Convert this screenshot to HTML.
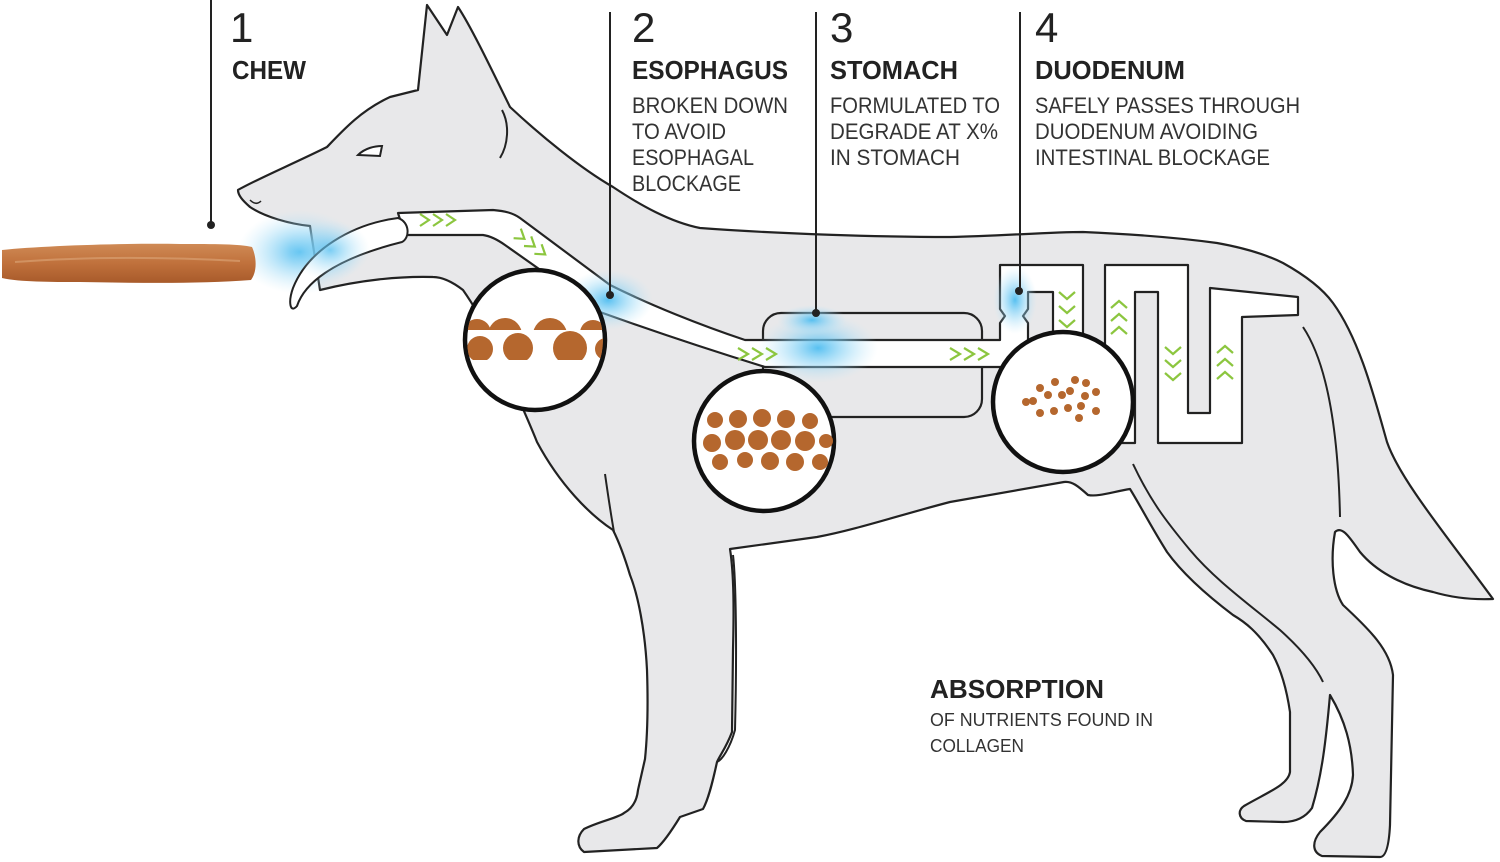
<!DOCTYPE html>
<html><head><meta charset="utf-8">
<style>
html,body{margin:0;padding:0;background:#fff;}
svg{display:block;}
.num{font-family:"Liberation Sans",sans-serif;font-size:42px;fill:#222;}
.hd{font-family:"Liberation Sans",sans-serif;font-size:26px;font-weight:bold;fill:#222;}
.bd{font-family:"Liberation Sans",sans-serif;font-size:22px;fill:#333;}
.sm{font-family:"Liberation Sans",sans-serif;font-size:18px;fill:#333;}
</style></head>
<body>
<svg width="1500" height="862" viewBox="0 0 1500 862" xmlns="http://www.w3.org/2000/svg">
<defs>
<radialGradient id="g"><stop offset="0" stop-color="#4fbdf0" stop-opacity="0.95"/><stop offset="0.5" stop-color="#8ad3f5" stop-opacity="0.5"/><stop offset="1" stop-color="#bfe6f8" stop-opacity="0"/></radialGradient>
<linearGradient id="st" x1="0" y1="0" x2="0" y2="1"><stop offset="0" stop-color="#cf8a55"/><stop offset="0.5" stop-color="#c0713c"/><stop offset="1" stop-color="#a85a2a"/></linearGradient>
<clipPath id="c1"><rect x="462" y="290" width="146" height="40"/></clipPath>
<clipPath id="c2"><rect x="462" y="330" width="146" height="30"/></clipPath>
<clipPath id="cc"><circle cx="535" cy="340" r="68"/></clipPath>
</defs>
<!-- dog outline -->
<path d="M238,190 C255,180 295,163 327,147 C345,128 362,110 390,97 L418,90 L427,5 L447,35 L458,7 C470,25 488,62 510,107 C540,135 580,168 613,187 C640,205 670,222 700,228 C780,234 880,237 950,237 C1000,236 1050,232 1083,232 C1130,234 1180,238 1217,243 C1245,248 1265,254 1283,263 C1310,278 1325,292 1333,303 C1360,340 1375,400 1387,442 C1400,480 1450,540 1493,599 C1470,600 1450,597 1433,592 C1400,585 1375,570 1360,552 C1350,538 1342,525 1335,532 C1330,560 1333,590 1343,605 C1370,630 1390,650 1393,675 L1390,825 C1389,845 1386,857 1380,857 L1322,856 C1312,852 1312,842 1320,832 C1340,812 1352,795 1353,775 C1352,745 1345,720 1330,695 C1326,740 1322,775 1312,808 C1305,818 1295,822 1283,822 L1246,821 C1238,818 1238,810 1244,806 C1268,792 1288,785 1290,772 L1290,712 C1286,685 1280,668 1273,655 C1258,632 1245,622 1233,615 C1200,590 1180,570 1167,552 C1150,525 1140,505 1130,489 C1112,492 1098,497 1088,495 C1078,486 1072,481 1064,482 C1030,488 990,495 950,502 C900,515 855,530 817,537 L730,549 C734,575 734,610 733,650 L732,732 C726,748 720,755 717,762 C712,785 708,800 703,809 L680,817 C672,830 664,842 657,848 L584,852 C576,846 577,836 584,829 C600,821 618,818 624,813 C633,808 637,800 638,790 L645,759 C648,730 648,700 647,670 C645,630 638,595 630,575 C624,555 618,540 613,530 C590,515 560,485 537,442 C525,412 512,385 495,345 C480,315 470,300 463,290 C450,280 440,277 433,277 C400,276 360,280 320,290 L310,226 C290,224 265,217 250,207 C242,200 238,195 238,190 Z" fill="#e8e8ea" stroke="#222" stroke-width="2.2" stroke-linejoin="round"/>
<!-- inner lines -->
<g fill="none" stroke="#222" stroke-width="2">
<path d="M502,110 C510,125 508,145 500,158"/>
<path d="M605,474 C608,495 611,515 614,532"/>
<path d="M733,555 C736,580 737,650 735,730 C730,748 722,760 717,762"/>
<path d="M1133,464 C1150,500 1165,520 1190,550 C1215,580 1250,605 1280,630 C1300,648 1315,665 1323,682"/>
<path d="M1303,327 C1325,360 1338,420 1340,517"/>
</g>
<!-- eye / nose -->
<path d="M358,155 C365,148 375,146 382,146 L380,156 Z" fill="#fff" stroke="#222" stroke-width="2"/>
<path d="M250,200 Q256,206 261,201" fill="none" stroke="#222" stroke-width="1.5"/>
<!-- stomach -->
<rect x="763" y="313" width="219" height="104" rx="18" fill="#e8e8ea" stroke="#222" stroke-width="2.2"/>
<!-- glows behind -->
<ellipse cx="300" cy="252" rx="62" ry="42" fill="url(#g)"/>
<!-- digestive tube -->
<path d="M398,213 L493,210 C505,211 513,213 520,218 L610,285 C650,305 700,325 745,340 L1000,340 L1000,323 L1005,316 L1000,309 L1000,265 L1083,265 L1083,372 L1053,372 L1053,292 L1028,292 L1028,309 L1023,316 L1028,323 L1028,367 L765,367 C710,350 650,330 600,312 L505,245 C498,240 490,236 483,235 L405,235 Z" fill="#fff" stroke="#222" stroke-width="2.2" stroke-linejoin="round"/>
<path d="M1105,443 L1105,265 L1188,265 L1188,413 L1210,413 L1210,288 L1298,297 L1298,315 L1242,317 L1242,443 L1158,443 L1158,292 L1135,292 L1135,443 Z" fill="#fff" stroke="#222" stroke-width="2.2" stroke-linejoin="round"/>
<!-- glows -->
<ellipse cx="608" cy="300" rx="45" ry="30" fill="url(#g)"/>
<ellipse cx="818" cy="348" rx="60" ry="35" fill="url(#g)"/>
<ellipse cx="1015" cy="300" rx="22" ry="34" fill="url(#g)"/>
<ellipse cx="812" cy="320" rx="35" ry="15" fill="url(#g)"/>
<!-- tongue -->
<path d="M398,218 C352,224 308,250 293,288 C288,302 290,314 297,306 C304,285 330,260 402,242 C410,238 410,222 398,218 Z" fill="#fff" stroke="#222" stroke-width="2"/>
<ellipse cx="330" cy="250" rx="40" ry="30" fill="url(#g)" opacity="0.8"/>
<!-- chevrons -->
<g fill="none" stroke="#8cc63f" stroke-width="2.2">
<path d="M420,214 l9,6 l-9,6 M433,214 l9,6 l-9,6 M446,214 l9,6 l-9,6"/>
<g transform="translate(530,243) rotate(37)"><path d="M-16,-6 l9,6 l-9,6 M-3,-6 l9,6 l-9,6 M10,-6 l9,6 l-9,6"/></g>
<path d="M738,348 l10,6 l-10,6 M752,348 l10,6 l-10,6 M766,348 l10,6 l-10,6"/>
<path d="M950,348 l10,6 l-10,6 M964,348 l10,6 l-10,6 M978,348 l10,6 l-10,6"/>
<path d="M1059,292 l8,7 l8,-7 M1059,306 l8,7 l8,-7 M1059,320 l8,7 l8,-7"/>
<path d="M1111,308 l8,-7 l8,7 M1111,321 l8,-7 l8,7 M1111,334 l8,-7 l8,7"/>
<path d="M1165,347 l8,7 l8,-7 M1165,360 l8,7 l8,-7 M1165,373 l8,7 l8,-7"/>
<path d="M1217,353 l8,-7 l8,7 M1217,366 l8,-7 l8,7 M1217,379 l8,-7 l8,7"/>
</g>
<!-- circles -->
<g stroke="#111" stroke-width="4.5" fill="#fff">
<circle cx="535" cy="340" r="70"/>
<circle cx="764" cy="441" r="70"/>
<circle cx="1063" cy="402" r="70"/>
</g>
<g fill="#b5672e" clip-path="url(#cc)">
<g clip-path="url(#c1)"><circle cx="477" cy="333" r="14"/><circle cx="505" cy="335" r="17"/><circle cx="550" cy="335" r="17"/><circle cx="593" cy="333" r="13"/></g>
<g clip-path="url(#c2)"><circle cx="480" cy="349" r="13"/><circle cx="518" cy="348" r="15"/><circle cx="570" cy="348" r="17"/><circle cx="606" cy="349" r="11"/></g>
</g>
<g fill="#b5672e">
<circle cx="715" cy="420" r="8"/><circle cx="738" cy="419" r="9"/><circle cx="762" cy="418" r="9"/><circle cx="786" cy="419" r="9"/><circle cx="810" cy="421" r="8"/>
<circle cx="712" cy="443" r="9"/><circle cx="735" cy="440" r="10"/><circle cx="758" cy="440" r="10"/><circle cx="781" cy="440" r="10"/><circle cx="805" cy="441" r="10"/><circle cx="826" cy="441" r="7"/>
<circle cx="720" cy="462" r="8"/><circle cx="745" cy="460" r="8"/><circle cx="770" cy="461" r="9"/><circle cx="795" cy="462" r="9"/><circle cx="820" cy="462" r="8"/>
<circle cx="1026" cy="402" r="4"/>
<circle cx="1040" cy="388" r="4"/><circle cx="1055" cy="382" r="4"/><circle cx="1062" cy="395" r="4"/><circle cx="1075" cy="380" r="4"/><circle cx="1086" cy="383" r="4"/><circle cx="1096" cy="392" r="4"/>
<circle cx="1033" cy="401" r="4"/><circle cx="1048" cy="395" r="4"/><circle cx="1070" cy="391" r="4"/><circle cx="1085" cy="396" r="4"/>
<circle cx="1040" cy="413" r="4"/><circle cx="1054" cy="411" r="4"/><circle cx="1068" cy="408" r="4"/><circle cx="1081" cy="406" r="4"/><circle cx="1096" cy="411" r="4"/><circle cx="1079" cy="418" r="4"/>
</g>
<!-- stick -->
<path d="M2,250 C40,246 120,243 180,244 C215,244 240,244 252,247 C257,258 257,272 251,280 C200,284 140,283 80,282 C50,282 20,282 2,278 Z" fill="url(#st)"/>
<path d="M15,262 C80,257 150,256 240,261" fill="none" stroke="#dca67a" stroke-width="2" opacity="0.6"/>
<!-- leader lines -->
<g stroke="#222" stroke-width="2">
<line x1="211" y1="0" x2="211" y2="224"/>
<line x1="610" y1="12" x2="610" y2="294"/>
<line x1="816" y1="12" x2="816" y2="312"/>
<line x1="1020" y1="12" x2="1020" y2="290"/>
</g>
<g fill="#222"><circle cx="211" cy="225" r="4"/><circle cx="610" cy="295" r="4"/><circle cx="816" cy="313" r="4"/><circle cx="1019" cy="291" r="4"/></g>
<!-- text -->
<text class="num" x="230" y="42">1</text>
<text class="hd" x="232" y="79" textLength="74" lengthAdjust="spacingAndGlyphs">CHEW</text>
<text class="num" x="632" y="42">2</text>
<text class="hd" x="632" y="79" textLength="156" lengthAdjust="spacingAndGlyphs">ESOPHAGUS</text>
<text class="bd" x="632" y="113" textLength="156" lengthAdjust="spacingAndGlyphs">BROKEN DOWN</text>
<text class="bd" x="632" y="139" textLength="94" lengthAdjust="spacingAndGlyphs">TO AVOID</text>
<text class="bd" x="632" y="165" textLength="122" lengthAdjust="spacingAndGlyphs">ESOPHAGAL</text>
<text class="bd" x="632" y="191" textLength="109" lengthAdjust="spacingAndGlyphs">BLOCKAGE</text>
<text class="num" x="830" y="42">3</text>
<text class="hd" x="830" y="79" textLength="128" lengthAdjust="spacingAndGlyphs">STOMACH</text>
<text class="bd" x="830" y="113" textLength="170" lengthAdjust="spacingAndGlyphs">FORMULATED TO</text>
<text class="bd" x="830" y="139" textLength="168" lengthAdjust="spacingAndGlyphs">DEGRADE AT X%</text>
<text class="bd" x="830" y="165" textLength="130" lengthAdjust="spacingAndGlyphs">IN STOMACH</text>
<text class="num" x="1035" y="42">4</text>
<text class="hd" x="1035" y="79" textLength="150" lengthAdjust="spacingAndGlyphs">DUODENUM</text>
<text class="bd" x="1035" y="113" textLength="265" lengthAdjust="spacingAndGlyphs">SAFELY PASSES THROUGH</text>
<text class="bd" x="1035" y="139" textLength="223" lengthAdjust="spacingAndGlyphs">DUODENUM AVOIDING</text>
<text class="bd" x="1035" y="165" textLength="235" lengthAdjust="spacingAndGlyphs">INTESTINAL BLOCKAGE</text>
<text class="hd" x="930" y="698" textLength="174" lengthAdjust="spacingAndGlyphs">ABSORPTION</text>
<text class="sm" x="930" y="726" textLength="223" lengthAdjust="spacingAndGlyphs">OF NUTRIENTS FOUND  IN</text>
<text class="sm" x="930" y="752" textLength="94" lengthAdjust="spacingAndGlyphs">COLLAGEN</text>
</svg>
</body></html>
